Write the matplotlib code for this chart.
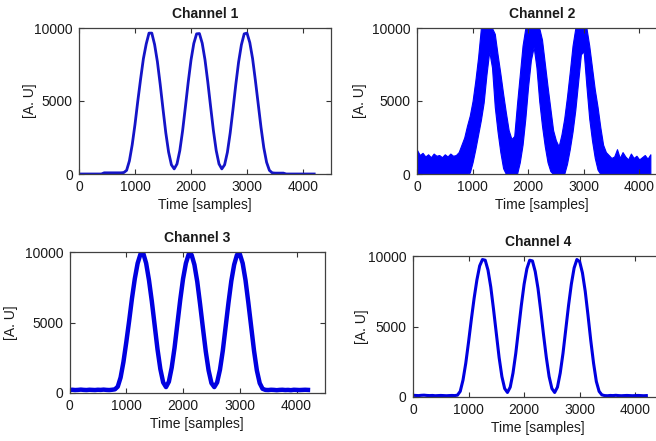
import numpy as np
import matplotlib
matplotlib.use('Agg')
import matplotlib.pyplot as plt

plt.rcParams['font.family'] = ['Liberation Sans', 'DejaVu Sans']

# sample index, one reading every 50 samples
samples = np.arange(0, 4201, 50)

channel_1 = [
    0, 0, 0, 0, 0, 0, 0, 0, 0, 80, 80, 80, 80, 80, 80, 80,
    100, 250, 900, 2000, 3400, 5000, 6500, 7900, 8900, 9650,
    9650, 8870, 7690, 6140, 4450, 2820, 1500, 630, 350, 690,
    1600, 2960, 4600, 6280, 7800, 8940, 9600, 9620, 8960, 7820,
    6300, 4620, 2980, 1610, 690, 350, 630, 1490, 2820, 4430,
    6130, 7670, 8850, 9600, 9650, 9000, 7900, 6400, 4800, 3200,
    1800, 800, 250, 80,
    60, 60, 60, 60,
    0, 0, 0, 0, 0, 0, 0, 0, 0, 0, 0,
]

# channel 2 is a noisy band: outer (upper) and inner (lower) edge of the trace
channel_2_upper = [
    1650, 1300, 1450, 1200, 1350, 1150, 1400, 1250, 1300, 1150, 1350, 1200,
    1400, 1250, 1300, 1500, 2000,
    2500, 3300, 4000, 5000, 6400, 8000, 10000, 10000, 10000, 10000,
    10000, 9600, 8200, 6900, 5500, 4200, 3000, 2400, 2600, 4800,
    6800, 8800, 10000, 10000, 10000, 10000, 10000, 10000, 9200, 7600,
    6000, 4500, 3000, 2300, 1900, 2700, 3800, 5300, 7000, 8800,
    10000, 10000, 10000, 10000, 10000, 8800, 7300, 5800, 4600, 3200,
    2000, 1500,
    1300, 1100, 1200, 1700, 1100, 1500, 1200, 1000, 1400, 1100, 1250, 1000,
    1150, 1300, 1050, 1350,
]
channel_2_lower = [
    0, 0, 0, 0, 0, 0, 0, 0, 0, 0, 0, 0, 0, 0, 0, 0, 0,
    0, 0, 100, 800, 1700, 2700, 3700, 4900, 6800, 8400,
    7300, 4600, 2900, 1500, 400, 0, 0, 0, 0, 0,
    800, 2000, 3800, 6000, 7800, 8700, 7300, 5000, 3300, 1900,
    800, 200, 0, 0, 0, 0, 0, 700, 1700, 2900,
    4400, 6300, 8200, 8400, 6000, 3800, 2300, 1100, 300, 0,
    0, 0,
    0, 0, 0, 0, 0, 0, 0, 0, 0, 0, 0, 0, 0, 0, 0, 0,
]

channel_3 = [
    220, 230, 210, 220, 240, 220, 210, 230, 220, 210, 230, 220, 240, 220,
    210, 230, 260,
    450, 1100, 2200, 3600, 5100, 6700, 8100, 9200, 9850, 9900,
    9200, 8000, 6500, 4800, 3100, 1700, 750, 420, 800, 1800,
    3200, 4900, 6600, 8100, 9200, 9850, 9800, 9100, 7900, 6300,
    4600, 2950, 1600, 700, 420, 750, 1650, 3000, 4700, 6400,
    7950, 9100, 9800, 9850, 9200, 8000, 6400, 4700, 3000, 1600,
    700, 300,
    220, 210, 230, 220, 200, 220, 230, 210, 220, 200, 230, 220, 210, 220,
    230, 220,
]

channel_4 = [
    120, 110, 100, 120, 130, 110, 100, 110, 90, 100, 110, 100, 90, 100,
    110, 100, 130,
    400, 1200, 2400, 3900, 5500, 7000, 8300, 9300, 9750, 9700,
    9000, 7800, 6200, 4500, 2800, 1450, 600, 320, 700, 1700,
    3100, 4800, 6500, 8000, 9100, 9700, 9650, 8900, 7700, 6100,
    4400, 2800, 1450, 600, 320, 700, 1700, 3100, 4800, 6500,
    8000, 9150, 9750, 9600, 8800, 7500, 5800, 4000, 2400, 1100,
    400, 150,
    100, 90, 110, 100, 120, 100, 90, 100, 110, 100, 90, 100, 110, 100,
    90, 100,
]

x_ticks = [0, 1000, 2000, 3000, 4000]
y_ticks = [0, 5000, 10000]

FIG_W, FIG_H = 656, 441


def px_axes(fig, left, top, right, bottom):
    """Add axes from pixel edges (origin at top left)."""
    return fig.add_axes([left / FIG_W, 1 - bottom / FIG_H,
                         (right - left) / FIG_W, (bottom - top) / FIG_H])


def style(ax, title, ylabel_x):
    ax.set_xlim(0, 4500)
    ax.set_ylim(0, 10000)
    ax.set_xticks(x_ticks)
    ax.set_yticks(y_ticks)
    ax.tick_params(direction='in', top=True, right=True, length=3.5,
                   width=0.8, colors='#333333', labelcolor='#1a1a1a',
                   labelsize=10, pad=4.5)
    for spine in ax.spines.values():
        spine.set_color('#404040')
        spine.set_linewidth(0.9)
    ax.set_title(title, fontsize=10, fontweight='bold', pad=7,
                 color='#1a1a1a')
    ax.set_xlabel('Time [samples]', fontsize=10, labelpad=3,
                  color='#1a1a1a')
    ax.set_ylabel('[A. U]', fontsize=10, color='#1a1a1a')
    ax.yaxis.set_label_coords(ylabel_x, 0.5)


def main():
    fig = plt.figure(figsize=(FIG_W / 100, FIG_H / 100), dpi=100)

    ax1 = px_axes(fig, 79, 28, 331, 174)
    ax1.plot(samples, channel_1, color='#1414c8', lw=2.0)
    style(ax1, 'Channel 1', -0.167)

    ax2 = px_axes(fig, 417, 28, 667, 174)
    ax2.fill_between(samples, channel_2_lower, channel_2_upper,
                     color='#0000ff', lw=0.8, edgecolor='#0000ff')
    style(ax2, 'Channel 2', -0.2)

    ax3 = px_axes(fig, 69.5, 252, 325, 393)
    ax3.plot(samples, channel_3, color='#0000e0', lw=3.2)
    style(ax3, 'Channel 3', -0.2)

    ax4 = px_axes(fig, 413, 256, 663, 397)
    ax4.plot(samples, channel_4, color='#0000e0', lw=2.2)
    style(ax4, 'Channel 4', -0.177)

    fig.savefig('out.png', dpi=100)


if __name__ == '__main__':
    main()
